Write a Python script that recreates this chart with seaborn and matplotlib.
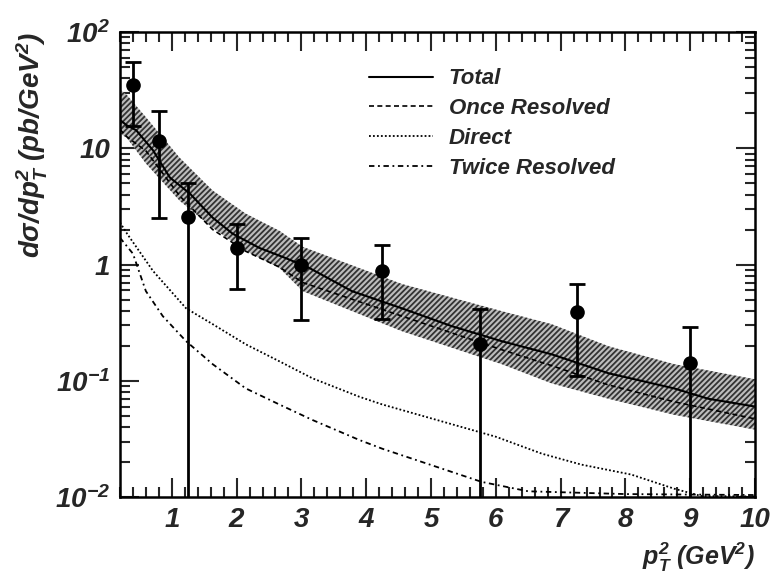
import numpy as np
import pandas as pd
import matplotlib
matplotlib.use("Agg")
import matplotlib.pyplot as plt
from matplotlib.ticker import FixedLocator, LogLocator, NullFormatter
import seaborn as sns

# Datos
pt2_datos = [0.4, 0.8, 1.25, 2.0, 3.0, 4.25, 5.75, 7.25, 9.0]
sigma_datos = [35.3, 11.5, 2.54, 1.40, 0.99, 0.88, 0.206, 0.39, 0.141]
sigma_arriba = [55.5, 20.9, 5.0, 2.25, 1.69, 1.48, 0.414, 0.68, 0.289]
sigma_abajo = [15.4, 2.51, 0.001, 0.62, 0.333, 0.34, 0.001, 0.109, 0.001]

total_x = [0.2, 0.31, 0.45, 0.71, 0.97, 1.28, 1.63, 1.94, 2.35, 2.75, 3.12, 3.78,
           4.55, 5.32, 6.09, 6.86, 7.74, 8.75, 9.28, 10.0]
total_y = [17.5, 15.7, 14.3, 9.6, 5.6, 4.07, 2.53, 1.84, 1.39, 1.14, 0.935, 0.59,
           0.42, 0.295, 0.219, 0.169, 0.116, 0.086, 0.070, 0.060]

banda_x = [0.2, 0.31, 0.60, 1.12, 1.63, 2.14, 2.66, 3.02, 4.55, 6.09, 6.86, 7.74, 8.75, 10.0]
banda_sup = [32.0, 28.6, 18.5, 8.3, 4.33, 2.74, 1.95, 1.42, 0.68, 0.397, 0.307, 0.198, 0.139, 0.103]
banda_inf = [13.5, 12.2, 7.4, 3.54, 2.07, 1.31, 0.935, 0.59, 0.267, 0.139, 0.095, 0.070, 0.051, 0.038]
once_y = [14.5, 12.5, 9.5, 3.9, 2.0, 1.3, 0.95, 0.70, 0.36, 0.185, 0.135, 0.092, 0.066, 0.047]

direct_x = [0.2, 0.31, 0.71, 1.22, 1.63, 2.14, 2.66, 3.17, 3.89, 4.25, 6.0, 6.71,
            7.32, 8.09, 8.75, 9.17, 10.0]
direct_y = [2.3, 1.84, 0.88, 0.42, 0.307, 0.206, 0.147, 0.105, 0.073, 0.0625, 0.033, 0.0236,
            0.019, 0.0156, 0.0118, 0.0102, 0.0101]

twice_x = [0.2, 0.40, 0.60, 0.86, 1.22, 1.63, 2.14, 2.66, 3.17, 3.89, 4.25, 5.78,
           6.5, 8.0, 10.0]
twice_y = [1.7, 1.24, 0.59, 0.36, 0.219, 0.139, 0.086, 0.0625, 0.046, 0.031, 0.026, 0.0135,
           0.0112, 0.0106, 0.0104]

sns.set_theme(style="ticks")
plt.rcParams['font.family'] = ['Liberation Sans', 'DejaVu Sans']
plt.rcParams['font.weight'] = 'bold'
plt.rcParams['font.style'] = 'italic'
plt.rcParams['axes.labelweight'] = 'bold'
plt.rcParams['mathtext.fontset'] = 'custom'
plt.rcParams['mathtext.rm'] = 'Liberation Sans:bold:italic'
plt.rcParams['mathtext.it'] = 'Liberation Sans:bold:italic'
plt.rcParams['mathtext.bf'] = 'Liberation Sans:bold:italic'
plt.rcParams['hatch.linewidth'] = 1.3

fig = plt.figure(figsize=(7.74, 5.79), dpi=100)
ax = fig.add_axes([0.155, 0.1416, 0.8205, 0.8031])

# Banda de incertidumbre
ax.fill_between(banda_x, banda_inf, banda_sup, facecolor='#bdbdbd',
                edgecolor='#333333', hatch='//////', linewidth=0, zorder=1)

curvas = pd.DataFrame({'x': total_x, 'y': total_y})
sns.lineplot(data=curvas, x='x', y='y', ax=ax, color='black', lw=1.5,
             label='Total', zorder=3)
sns.lineplot(x=banda_x, y=once_y, ax=ax, color='black', lw=1.2,
             linestyle=(0, (3, 2)), label='Once Resolved', zorder=3)
sns.lineplot(x=direct_x, y=direct_y, ax=ax, color='black', lw=1.3,
             linestyle=(0, (1, 1.2)), label='Direct', zorder=3)
sns.lineplot(x=twice_x, y=twice_y, ax=ax, color='black', lw=1.3,
             linestyle=(0, (3, 2, 1, 2)), label='Twice Resolved', zorder=3)

# Puntos con barras de error
err_inf = np.array(sigma_datos) - np.array(sigma_abajo)
err_sup = np.array(sigma_arriba) - np.array(sigma_datos)
ax.errorbar(pt2_datos, sigma_datos, yerr=[err_inf, err_sup], fmt='o', color='black',
            markersize=9.5, elinewidth=2, capsize=6, capthick=2, zorder=5)

ax.set_yscale('log')
ax.set_xlim(0.2, 10)
ax.set_ylim(0.01, 100)

ax.set_xticks(range(1, 11))
ax.set_xticklabels([str(i) for i in range(1, 11)])
ax.xaxis.set_minor_locator(FixedLocator(np.arange(0.2, 10.01, 0.2)))
ax.set_yticks([0.01, 0.1, 1, 10, 100])
ax.set_yticklabels(['10$^{-2}$', '10$^{-1}$', '1', '10', '10$^{2}$'])
ax.yaxis.set_minor_locator(LogLocator(base=10, subs=np.arange(2, 10)))
ax.yaxis.set_minor_formatter(NullFormatter())

ax.tick_params(which='both', direction='in', top=True, right=True, width=1.5,
               labelsize=20, pad=7)
ax.tick_params(which='major', length=14)
ax.tick_params(which='minor', length=7)
for s in ax.spines.values():
    s.set_linewidth(1.8)
    s.set_color('black')

ax.set_xlabel(r'p$^{2}_{T}$ (GeV$^{2}$)', fontsize=18, fontweight='bold',
              loc='right', labelpad=6)
ax.set_ylabel(r'd$\sigma$/dp$^{2}_{T}$ (pb/GeV$^{2}$)', fontsize=20, fontweight='bold',
              loc='top', labelpad=4)

ax.legend(loc='upper left', bbox_to_anchor=(0.36, 0.965), frameon=False,
          handlelength=2.9, handletextpad=0.7, labelspacing=0.4,
          prop={'weight': 'bold', 'style': 'italic', 'size': 16})

fig.savefig('out.png', dpi=100)
